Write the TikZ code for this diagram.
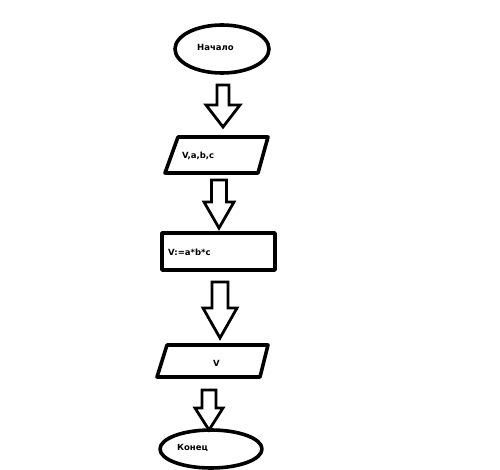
\documentclass[tikz,border=0pt]{standalone}
\usepackage{fontspec}
\setmainfont{DejaVu Sans}
\begin{document}
\begin{tikzpicture}[x=1pt,y=-1pt,
  shapeline/.style={draw=black,line width=3.6pt,line join=round},
  arrowline/.style={draw=black,line width=2.8pt,line join=miter},
  lbl/.style={font=\fontsize{8.5}{10}\selectfont\bfseries,inner sep=0pt,anchor=west}]
\useasboundingbox[fill=white] (0,0) rectangle (500,470);
\newcommand\barrow[6]{%
  \draw[arrowline] (#1-#5,#2) -- (#1+#5,#2) -- (#1+#5,#3) -- (#1+#6,#3) -- (#1,#4) -- (#1-#6,#3) -- (#1-#5,#3) -- cycle;}
% start
\draw[shapeline] (222,49) ellipse [x radius=47, y radius=24];
\node[lbl] (start) at (197,47) {Начало};
\barrow{223}{85}{105}{127}{6}{17}
% input
\draw[shapeline] (178,137) -- (268,137) -- (258,173) -- (165,173) -- cycle;
\node[lbl] (input) at (182,156) {V,a,b,c};
\barrow{219}{180}{202}{228}{7.5}{15}
% process
\draw[shapeline] (162,233) rectangle (275,270);
\node[lbl] (proc) at (168,252) {V:=a*b*c};
\barrow{220}{282}{308}{338}{8}{17}
% output
\draw[shapeline] (167,345) -- (268,345) -- (260,377) -- (157,377) -- cycle;
\node[lbl] (output) at (213,363) {V};
\barrow{209}{390}{408}{430}{7}{14}
% end
\draw[shapeline] (211,449) ellipse [x radius=51, y radius=19];
\node[lbl] (end) at (177,448) {Конец};
\end{tikzpicture}
\end{document}
